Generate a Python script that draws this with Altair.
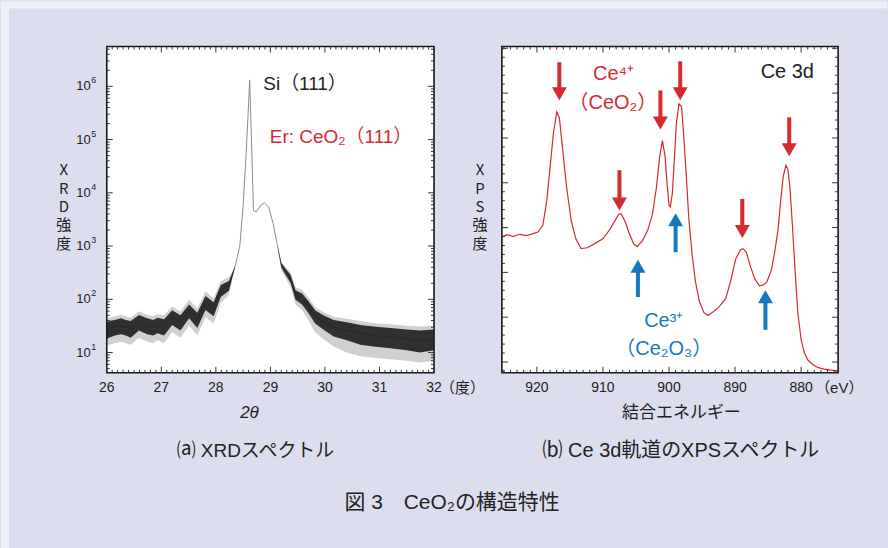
import altair as alt
import pandas as pd

# ---------------- data: (a) XRD spectrum ----------------
xrd_2theta = [26.00, 26.04, 26.15, 26.26, 26.35, 26.44, 26.59, 26.74, 26.85, 26.93,
              27.05, 27.20, 27.35, 27.51, 27.66, 27.81, 27.96, 28.09, 28.24, 28.36,
              28.44, 28.50, 28.55, 28.59, 28.62, 28.64, 28.67, 28.69, 28.74, 28.82,
              28.89, 28.97, 29.05, 29.13, 29.20, 29.27, 29.37, 29.46, 29.58, 29.70,
              29.82, 29.97, 30.16, 30.40, 30.65, 30.89, 31.20, 31.50, 31.74, 32.00]
xrd_counts = [26, 28, 30, 32, 30, 28, 38, 32, 30, 33,
              31, 47, 37, 62, 42, 89, 67, 148, 182, 437,
              1020, 5750, 43600, 282000, 1320000, 282000, 24500, 4680, 4370, 5750,
              6460, 5370, 2630, 1020, 437, 339, 245, 120, 102, 72,
              47, 38, 30, 26, 23, 21, 19.5, 18, 17, 18]
# dense dark core of the noisy trace
xrd_low = [18, 19, 21, 22, 21, 19, 26, 22, 21, 23,
           21, 33, 26, 44, 29, 63, 48, 110, 145, 437,
           1020, 5750, 43600, 282000, 1320000, 282000, 24500, 4680, 4370, 5750,
           6460, 5370, 2630, 1020, 400, 300, 205, 98, 80, 55,
           35, 27, 20, 17, 14, 13, 12, 11, 10, 11]
xrd_high = [36, 39, 41, 44, 41, 39, 51, 44, 41, 45,
            42, 62, 50, 80, 56, 115, 88, 185, 220, 437,
            1020, 5750, 43600, 282000, 1320000, 282000, 24500, 4680, 4370, 5750,
            6460, 5370, 2630, 1020, 480, 385, 290, 148, 128, 92,
            62, 50, 41, 37, 33, 31, 29, 27, 26, 27]
# faint outer spikes of the noisy trace
xrd_low2 = [13, 14, 15, 16, 15, 14, 19, 16, 15, 17,
            15, 24, 19, 32, 21, 46, 35, 85, 120, 437,
            1020, 5750, 43600, 282000, 1320000, 282000, 24500, 4680, 4370, 5750,
            6460, 5370, 2630, 1020, 360, 260, 170, 80, 62, 40,
            24, 18, 13, 10, 8.5, 8, 7.5, 7, 6.5, 7]
xrd_high2 = [42, 45, 48, 51, 48, 45, 60, 51, 48, 53,
             50, 74, 59, 98, 67, 140, 105, 220, 260, 437,
             1020, 5750, 43600, 282000, 1320000, 282000, 24500, 4680, 4370, 5750,
             6460, 5370, 2630, 1020, 520, 420, 320, 170, 150, 108,
             72, 58, 47, 43, 39, 36, 34, 32, 31, 32]
xrd_tick_labels = [26, 27, 28, 29, 30, 31, 32]
xrd_decades = [10, 100, 1000, 10000, 100000, 1000000]
xrd_exponents = ["1", "2", "3", "4", "5", "6"]

# ---------------- data: (b) Ce 3d XPS spectrum ----------------
xps_ev = [925.3, 924.5, 923.6, 922.6, 921.6, 920.7, 919.85, 919.1, 918.5, 918.0,
          917.5, 917.0, 916.6, 916.1, 915.5, 914.8, 914.1, 913.3, 912.4, 911.5,
          910.0, 909.0, 908.2, 907.6, 907.2, 906.6, 906.0, 905.3, 904.8, 904.0,
          903.2, 902.5, 901.9, 901.4, 901.0, 900.6, 900.3, 900.0, 899.8, 899.5,
          899.2, 898.9, 898.5, 898.1, 897.8, 897.4, 897.0, 896.5, 896.0, 895.4,
          894.7, 894.1, 893.3, 892.5, 891.4, 890.6, 889.9, 889.2, 888.8, 888.3,
          887.6, 887.0, 886.3, 885.7, 885.2, 884.5, 884.0, 883.5, 883.1, 882.7,
          882.3, 882.0, 881.7, 881.3, 880.9, 880.5, 880.0, 879.5, 879.0, 878.3,
          877.5, 876.5, 875.5, 874.4]
xps_int = [2.79, 2.84, 2.80, 2.85, 2.82, 2.86, 2.90, 3.05, 3.60, 4.35,
           5.10, 5.58, 5.45, 4.75, 3.90, 3.15, 2.75, 2.53, 2.55, 2.62,
           2.75, 2.95, 3.15, 3.30, 3.30, 3.12, 2.86, 2.62, 2.58, 2.71,
           2.95, 3.30, 3.90, 4.60, 4.94, 4.60, 4.00, 3.50, 3.46, 3.75,
           4.50, 5.30, 5.76, 5.70, 5.10, 4.20, 3.20, 2.40, 1.80, 1.35,
           1.10, 1.04, 1.12, 1.22, 1.42, 1.85, 2.30, 2.50, 2.53, 2.45,
           2.10, 1.85, 1.70, 1.72, 1.78, 2.05, 2.45, 2.95, 3.60, 4.15,
           4.39, 4.30, 3.90, 3.00, 2.00, 1.10, 0.50, 0.20, 0.05, -0.05,
           -0.12, -0.16, -0.18, -0.20]
xps_tick_labels = [880, 890, 900, 910, 920]

red_arrow_ev = [916.6, 907.5, 901.3, 898.3, 888.9, 881.8]
red_arrow_top = [6.69, 4.28, 6.06, 6.71, 3.64, 5.46]
red_arrow_tip = [5.84, 3.38, 5.19, 5.84, 2.77, 4.59]
blue_arrow_ev = [904.7, 899.0, 885.4]
blue_arrow_bottom = [1.45, 2.45, 0.72]
blue_arrow_tip = [2.28, 3.32, 1.60]

xrd_title_chars = ["X", "R", "D", "強", "度"]
xps_title_chars = ["X", "P", "S", "強", "度"]

# ---------------- style ----------------
W1, W2, H = 328, 337, 327
RED = "#d52b30"
BLUE = "#1479bf"
INK = "#222222"
LAT = "Liberation Sans, Noto Sans CJK JP, sans-serif"
JP = "Noto Sans CJK JP, Liberation Sans, sans-serif"
LAV = "#dcdeef"

one = pd.DataFrame({"a": [0]})


def pix_rect(x1, x2, y1, y2, **kw):
    return alt.Chart(one).mark_rect(**kw).encode(
        x=alt.value(x1), x2=alt.value(x2), y=alt.value(y1), y2=alt.value(y2))


def pix_text(x, y, text, **kw):
    return alt.Chart(one).mark_text(**kw).encode(
        x=alt.value(x), y=alt.value(y), text=alt.value(text))


def stacked_title(x, chars):
    # vertical axis title: one character under another
    df = pd.DataFrame({"ch": chars, "k": list(range(len(chars)))})
    return alt.Chart(df).transform_calculate(py="124 + 18.4 * datum.k").mark_text(
        align="center", baseline="middle", fontSize=15, font=JP, color=INK).encode(
        x=alt.value(x), y=alt.Y("py:Q", scale=None, axis=None), text="ch:N")


def frame_ticks(xvals, yvals, xscale, yscale, W, L):
    dx = pd.DataFrame({"v": xvals})
    dy = pd.DataFrame({"v": yvals})
    rk = dict(color="#333333", strokeWidth=1)
    return [
        alt.Chart(dx).mark_rule(**rk).encode(
            x=alt.X("v:Q", scale=xscale, axis=None), y=alt.value(0), y2=alt.value(L)),
        alt.Chart(dx).mark_rule(**rk).encode(
            x=alt.X("v:Q", scale=xscale, axis=None), y=alt.value(H), y2=alt.value(H - L)),
        alt.Chart(dy).mark_rule(**rk).encode(
            y=alt.Y("v:Q", scale=yscale, axis=None), x=alt.value(0), x2=alt.value(L)),
        alt.Chart(dy).mark_rule(**rk).encode(
            y=alt.Y("v:Q", scale=yscale, axis=None), x=alt.value(W), x2=alt.value(W - L)),
    ]


def x_labels(vals, xscale):
    return alt.Chart(pd.DataFrame({"v": vals})).mark_text(
        align="center", baseline="middle", fontSize=14, font=LAT, color=INK).encode(
        x=alt.X("v:Q", scale=xscale, axis=None), y=alt.value(H + 15),
        text=alt.Text("v:Q", format="d"))


# ================= (a) XRD panel =================
xs1 = alt.Scale(domain=[26, 32], nice=False, zero=False)
ys1 = alt.Scale(type="log", domain=[4.17, 5.6e6], nice=False)

xrd = pd.DataFrame({"tt": xrd_2theta, "cnt": xrd_counts, "lo": xrd_low, "hi": xrd_high,
                    "lo2": xrd_low2, "hi2": xrd_high2})

line1 = alt.Chart(xrd).mark_line(color="#8c8c8c", strokeWidth=1).encode(
    x=alt.X("tt:Q", scale=xs1, axis=None),
    y=alt.Y("cnt:Q", scale=ys1, axis=None),
)
band_outer = alt.Chart(xrd).mark_area(color="#555555", opacity=0.28).encode(
    x=alt.X("tt:Q", scale=xs1, axis=None),
    y=alt.Y("lo2:Q", scale=ys1, axis=None),
    y2="hi2:Q",
)
band1 = alt.Chart(xrd).mark_area(color="#141414", opacity=0.85).encode(
    x=alt.X("tt:Q", scale=xs1, axis=None),
    y=alt.Y("lo:Q", scale=ys1, axis=None),
    y2="hi:Q",
)

x1_minor = [round(26 + 0.1 * i, 1) for i in range(61) if i % 10 != 0]
y1_minor = [m * 10 ** k for k in range(0, 7) for m in range(2, 10) if 4.17 <= m * 10 ** k <= 5.6e6]
ticks1 = frame_ticks(xrd_tick_labels, xrd_decades, xs1, ys1, W1, 6) + \
    frame_ticks(x1_minor, y1_minor, xs1, ys1, W1, 3)

ylab = pd.DataFrame({"v": xrd_decades, "e": xrd_exponents})
ten = alt.Chart(ylab).mark_text(align="right", baseline="middle", fontSize=13, font=LAT, color=INK).encode(
    x=alt.value(-16), y=alt.Y("v:Q", scale=ys1, axis=None), text=alt.value("10"))
expo = alt.Chart(ylab).mark_text(align="left", baseline="middle", fontSize=9, font=LAT, color=INK, dy=-6).encode(
    x=alt.value(-15.5), y=alt.Y("v:Q", scale=ys1, axis=None), text="e:N")

ann_a = pd.DataFrame({"x": [28.87, 28.99], "y": [1.12e6, 1.1e5],
                      "t": ["Si（111）", "Er: CeO₂（111）"], "c": [INK, RED]})
ann_a_txt = alt.Chart(ann_a).mark_text(align="left", baseline="middle", fontSize=19, font=LAT).encode(
    x=alt.X("x:Q", scale=xs1, axis=None), y=alt.Y("y:Q", scale=ys1, axis=None),
    text="t:N", color=alt.Color("c:N", scale=None))

left = alt.layer(
    pix_rect(-106, 782, -45, 503, fill="#eeeff6"),
    pix_rect(-98, 782, -38, 503, fill=LAV),
    pix_rect(0, W1, 0, H, fill="white", stroke="#1a1a1a", strokeWidth=1.6),
    band_outer, line1, band1, *ticks1, ten, expo, ann_a_txt,
    x_labels(xrd_tick_labels, xs1),
    pix_text(334, H + 15, "（度）", align="left", baseline="middle", fontSize=15, font=JP, color=INK),
    pix_text(143, H + 40, "2θ", align="center", baseline="middle", fontSize=17, font=LAT,
             fontStyle="italic", color=INK),
    stacked_title(-43, xrd_title_chars),
    pix_text(149, 405, "⒜ XRDスペクトル", align="center", baseline="middle", fontSize=19, font=LAT, color=INK),
    pix_text(346, 458, "図 3　CeO₂の構造特性", align="center", baseline="middle", fontSize=21, font=LAT, color=INK),
).properties(width=W1, height=H)

# ================= (b) XPS panel =================
xs2 = alt.Scale(domain=[874.4, 925.3], reverse=True, nice=False, zero=False)
ys2 = alt.Scale(domain=[-0.24, 7.04], nice=False, zero=False)

xps = pd.DataFrame({"ev": xps_ev, "i": xps_int})
line2 = alt.Chart(xps).mark_line(color=RED, strokeWidth=1.2).encode(
    x=alt.X("ev:Q", scale=xs2, axis=None),
    y=alt.Y("i:Q", scale=ys2, axis=None),
)

x2_minor = [v for v in range(875, 926) if v % 10 != 0]
y2_minor = [round(-0.2 + 0.2 * i, 1) for i in range(37) if round(-0.2 + 0.2 * i, 1) % 1 != 0]
ticks2 = frame_ticks(xps_tick_labels, list(range(0, 8)), xs2, ys2, W2, 6) + \
    frame_ticks(x2_minor, y2_minor, xs2, ys2, W2, 3)

red_df = pd.DataFrame({"ev": red_arrow_ev, "a": red_arrow_top, "b": red_arrow_tip})
blue_df = pd.DataFrame({"ev": blue_arrow_ev, "a": blue_arrow_bottom, "b": blue_arrow_tip})

red_shaft = alt.Chart(red_df).mark_rule(color=RED, strokeWidth=4, y2Offset=-8).encode(
    x=alt.X("ev:Q", scale=xs2, axis=None), y=alt.Y("a:Q", scale=ys2, axis=None), y2="b:Q")
red_head = alt.Chart(red_df).mark_point(shape="triangle-down", filled=True, fill=RED, color=RED,
                                        opacity=1, size=225, yOffset=-6.5).encode(
    x=alt.X("ev:Q", scale=xs2, axis=None), y=alt.Y("b:Q", scale=ys2, axis=None))
blue_shaft = alt.Chart(blue_df).mark_rule(color=BLUE, strokeWidth=4, y2Offset=8).encode(
    x=alt.X("ev:Q", scale=xs2, axis=None), y=alt.Y("a:Q", scale=ys2, axis=None), y2="b:Q")
blue_head = alt.Chart(blue_df).mark_point(shape="triangle-up", filled=True, fill=BLUE, color=BLUE,
                                          opacity=1, size=225, yOffset=6.5).encode(
    x=alt.X("ev:Q", scale=xs2, axis=None), y=alt.Y("b:Q", scale=ys2, axis=None))

ann_b = pd.DataFrame({
    "x": [882.1, 908.4, 908.5, 900.8, 900.8],
    "y": [6.47, 6.42, 5.79, 0.91, 0.28],
    "t": ["Ce 3d", "Ce⁴⁺", "（CeO₂）", "Ce³⁺", "（Ce₂O₃）"],
    "c": [INK, RED, RED, BLUE, BLUE],
})
ann_txt = alt.Chart(ann_b).mark_text(align="center", baseline="middle", fontSize=20, font=LAT).encode(
    x=alt.X("x:Q", scale=xs2, axis=None), y=alt.Y("y:Q", scale=ys2, axis=None),
    text="t:N", color=alt.Color("c:N", scale=None))

right = alt.layer(
    pix_rect(0, W2, 0, H, fill="white", stroke="#1a1a1a", strokeWidth=1.6),
    line2, *ticks2, red_shaft, red_head, blue_shaft, blue_head, ann_txt,
    x_labels(xps_tick_labels, xs2),
    pix_text(314, H + 15, "（eV）", align="left", baseline="middle", fontSize=15, font=LAT, color=INK),
    pix_text(180, H + 40, "結合エネルギー", align="center", baseline="middle", fontSize=17, font=JP, color=INK),
    stacked_title(-22, xps_title_chars),
    pix_text(179.5, 405, "⒝ Ce 3d軌道のXPSスペクトル", align="center", baseline="middle", fontSize=20, font=LAT, color=INK),
).properties(width=W2, height=H)

chart = alt.hconcat(left, right, spacing=68, bounds="flush").properties(
    padding=0, background=LAV
).configure_view(stroke="transparent")

chart.save("out.html", embed_options={"renderer": "svg", "actions": False})
